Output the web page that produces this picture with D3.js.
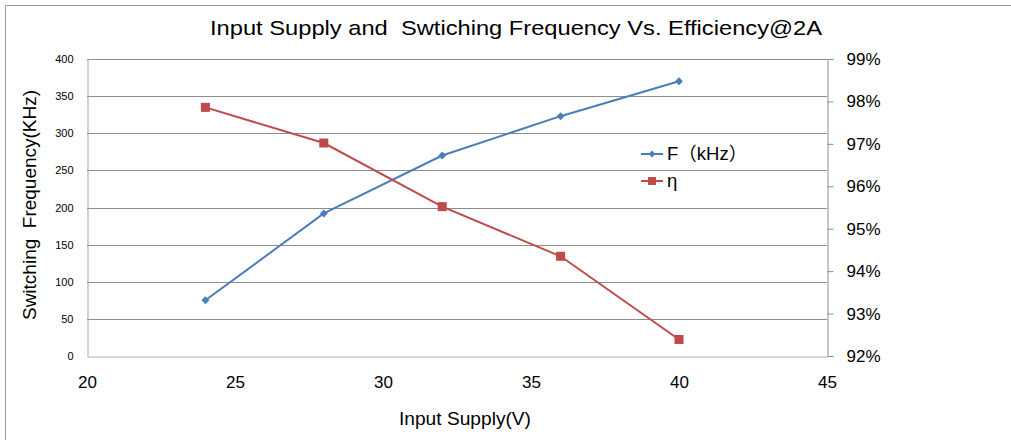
<!DOCTYPE html>
<html>
<head>
<meta charset="utf-8">
<script src="https://cdn.jsdelivr.net/npm/d3@7"></script>
<style>
  html, body { margin: 0; padding: 0; background: #fff; }
  svg { display: block; font-family: "Liberation Sans", Arial, sans-serif; }
</style>
</head>
<body>
<svg id="chart" width="1011" height="440"></svg>
<script>
const titleText = "Input Supply and\u00A0 Swtiching Frequency Vs. Efficiency@2A";
const xLabel = "Input Supply(V)";
const yLeftLabel = "Switching\u00A0 Frequency(KHz)";
const supplyV = [24, 28, 32, 36, 40];
const freqKHz = [75, 192, 270, 323, 370];
const efficiency = [0.9786, 0.9702, 0.9552, 0.9435, 0.9239];
const seriesNames = ["F（kHz）", "η"];
const xTicks = [20, 25, 30, 35, 40, 45];
const leftTicks = [0, 50, 100, 150, 200, 250, 300, 350, 400];
const rightTicks = [0.92, 0.93, 0.94, 0.95, 0.96, 0.97, 0.98, 0.99];

const svg = d3.select("#chart");
const L = 87, R = 827, T = 59, B = 356;

// outer frame (left + top visible)
svg.append("path").attr("d", "M5.5,440 V5.5 H1011").attr("fill", "none").attr("stroke", "#9a9a9a").attr("stroke-width", 1);

const x = d3.scaleLinear().domain([20, 45]).range([L, R]);
const yL = d3.scaleLinear().domain([0, 400]).range([B, T]);
const yR = d3.scaleLinear().domain([0.92, 0.99]).range([B, T]);

// gridlines
svg.append("g").selectAll("line").data(leftTicks.slice(1)).join("line")
  .attr("x1", L).attr("x2", R)
  .attr("y1", d => Math.round(yL(d)) + 0.5).attr("y2", d => Math.round(yL(d)) + 0.5)
  .attr("stroke", "#8c8c8c").attr("stroke-width", 1);

// left axis
const gl = svg.append("g").attr("transform", `translate(${L + 0.5},0)`)
  .call(d3.axisLeft(yL).tickValues(leftTicks).tickSize(0).tickPadding(14));
gl.select(".domain").attr("stroke", "#a6a6a6");
gl.selectAll("text").attr("font-size", 11).attr("fill", "#000").attr("font-family", "Liberation Sans, Arial, sans-serif");

// right axis
const gr = svg.append("g").attr("transform", `translate(${R + 0.5},0)`)
  .call(d3.axisRight(yR).tickValues(rightTicks).tickSize(6).tickPadding(13).tickFormat(d3.format(".0%")));
gr.select(".domain").attr("stroke", "#8c8c8c");
gr.selectAll(".tick line").attr("stroke", "#8c8c8c");
gr.selectAll("text").attr("font-size", 17).attr("fill", "#000").attr("font-family", "Liberation Sans, Arial, sans-serif");

// bottom axis
const gb = svg.append("g").attr("transform", `translate(0,${B + 0.5})`)
  .call(d3.axisBottom(x).tickValues(xTicks).tickSize(0).tickPadding(19));
gb.select(".domain").attr("stroke", "#b0b0b0");
gb.selectAll("text").attr("font-size", 17).attr("fill", "#000").attr("font-family", "Liberation Sans, Arial, sans-serif");

// title
svg.append("text").attr("x", 516).attr("y", 35).attr("text-anchor", "middle")
  .attr("font-size", 21).attr("fill", "#000")
  .attr("textLength", 612).attr("lengthAdjust", "spacingAndGlyphs").text(titleText);

// axis titles
svg.append("text").attr("x", 465).attr("y", 425).attr("text-anchor", "middle")
  .attr("font-size", 18).attr("fill", "#000")
  .attr("textLength", 132).attr("lengthAdjust", "spacingAndGlyphs").text(xLabel);
svg.append("text").attr("transform", "translate(36,205) rotate(-90)").attr("text-anchor", "middle")
  .attr("font-size", 18).attr("fill", "#000")
  .attr("textLength", 230).attr("lengthAdjust", "spacingAndGlyphs").text(yLeftLabel);

const blue = "#4a7ebb", red = "#be4b48";

const data = supplyV.map((v, i) => ({ v, f: freqKHz[i], e: efficiency[i] }));

// frequency line
svg.append("path").datum(data)
  .attr("d", d3.line().x(d => x(d.v)).y(d => yL(d.f)))
  .attr("fill", "none").attr("stroke", blue).attr("stroke-width", 2);
svg.append("g").selectAll("path").data(data).join("path")
  .attr("transform", d => `translate(${x(d.v)},${yL(d.f)})`)
  .attr("d", d3.symbol(d3.symbolDiamond2, 40)()).attr("fill", blue);

// efficiency line
svg.append("path").datum(data)
  .attr("d", d3.line().x(d => x(d.v)).y(d => yR(d.e)))
  .attr("fill", "none").attr("stroke", red).attr("stroke-width", 2);
svg.append("g").selectAll("rect").data(data).join("rect")
  .attr("x", d => x(d.v) - 4.5).attr("y", d => yR(d.e) - 4.5)
  .attr("width", 9).attr("height", 9).attr("fill", red);

// legend
const lg = svg.append("g");
const rows = [{ name: seriesNames[0], c: blue, y: 154, m: "d" }, { name: seriesNames[1], c: red, y: 181, m: "s" }];
rows.forEach(r => {
  lg.append("line").attr("x1", 641).attr("x2", 663).attr("y1", r.y).attr("y2", r.y).attr("stroke", r.c).attr("stroke-width", 2);
  if (r.m === "d") {
    lg.append("path").attr("transform", `translate(652,${r.y})`).attr("d", d3.symbol(d3.symbolDiamond2, 30)()).attr("fill", r.c);
  } else {
    lg.append("rect").attr("x", 648).attr("y", r.y - 4).attr("width", 8).attr("height", 8).attr("fill", r.c);
  }
  lg.append("text").attr("x", 667).attr("y", r.y + 6).attr("font-size", 18.5)
    .attr("font-family", "Liberation Sans, 'Noto Sans CJK SC', sans-serif").attr("fill", "#000").text(r.name);
});
</script>
</body>
</html>
